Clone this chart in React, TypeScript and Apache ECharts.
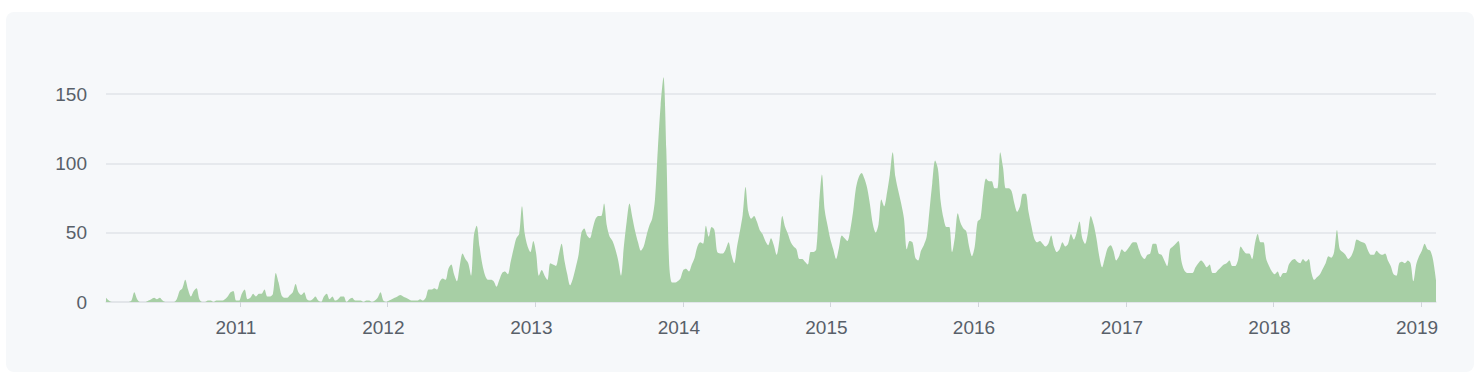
import React, { useEffect, useRef } from "react";
import * as echarts from "echarts";

// Weekly commit counts, first week starting 2010-02-04
const firstWeek = "2010-02-04";

const values2010 = [3,1,0,0,0,0,0,0,0,1, 7,2,0,0,0,1,2,3,2,3, 1,0,0,0,0,2,8,10,16,9, 4,8,10,2,0,0,1,1,0,1, 1,1,2,4,7,8,1];
const values2011 = [1,6,9,2,3,6,4,6,6,9, 4,4,6,21,14,5,3,3,5,7, 13,7,5,7,2,1,2,4,1,0, 4,6,2,4,1,2,4,4,0,2, 3,1,1,1,0,1,1,0,1,3, 7,1];
const values2012 = [0,1,2,3,4,5,4,3,2,1, 1,1,2,1,3,9,9,10,9,15, 17,16,24,27,20,15,26,35,31,28, 19,48,55,40,27,19,16,16,15,11, 16,21,22,20,29,38,46,49,69,49, 40,36,44];
const values2013 = [35,19,23,19,16,28,27,26,34,42, 30,20,12,17,25,34,50,53,48,46, 53,60,62,62,71,55,47,44,38,30, 19,40,58,71,61,51,43,37,40,48, 55,60,74,110,142,162,110,28,14,14, 15,17];
const values2014 = [23,24,22,27,32,40,43,42,55,47, 54,52,36,35,35,38,43,34,28,40, 51,63,83,65,60,62,58,52,49,44, 41,46,41,34,45,62,54,49,43,40, 38,31,31,29,27,36,36,38,70,92, 66,55];
const values2015 = [45,38,31,39,48,46,44,52,65,82, 90,93,89,82,70,56,50,56,74,69, 79,92,108,90,80,71,60,38,44,43, 32,30,37,41,47,66,86,102,96,72, 60,54,54,36,47,64,57,53,51,40, 33,40];
const values2016 = [58,60,78,89,87,87,82,82,108,97, 82,82,80,71,65,69,78,78,65,55, 46,43,44,42,40,42,48,40,36,38, 43,40,42,49,45,50,58,46,42,50, 62,56,46,33,25,32,39,41,37,30, 33,38];
const values2017 = [36,38,41,43,43,38,33,31,34,35, 42,42,35,34,30,26,38,40,42,44, 30,23,21,21,21,25,28,30,28,25, 27,21,21,23,25,27,28,30,26,26, 30,40,37,35,35,31,42,49,43,43, 31,26];
const values2018 = [22,20,22,18,21,21,27,30,31,29, 28,31,29,31,21,16,18,20,24,28, 33,32,36,52,38,36,34,31,33,38, 45,44,43,42,37,34,34,37,35,34, 35,30,26,20,19,28,29,28,30,28, 15,27];
const values2019 = [33,37,42,38,37,30,16];

const yearLabels = ["2011", "2012", "2013", "2014", "2015", "2016", "2017", "2018", "2019"];
const yMin = 0;
const yMax = 150;
const yStep = 50;

const FONT = "'Liberation Sans', Arial, Helvetica, sans-serif";

export default function App() {
  const ref = useRef<HTMLDivElement>(null);

  useEffect(() => {
    if (!ref.current) return;
    const chart = echarts.init(ref.current, null, { renderer: "svg" });
    const values = [
      ...values2010, ...values2011, ...values2012, ...values2013, ...values2014,
      ...values2015, ...values2016, ...values2017, ...values2018, ...values2019,
    ];
    const start = Date.parse(firstWeek + "T00:00:00Z");
    const WEEK = 7 * 86400000;
    const data = values.map((v, i) => [start + i * WEEK, v]);
    const yearValues = yearLabels.map((y) => Date.UTC(Number(y), 0, 1));

    chart.setOption({
      animation: false,
      textStyle: { fontFamily: FONT },
      grid: { left: 106, right: 44, top: 94, bottom: 84 },
      xAxis: {
        type: "value",
        min: data[0][0],
        max: data[data.length - 1][0],
        axisLine: { show: true, lineStyle: { color: "#e1e4e8", width: 1.5 } },
        axisTick: {
          show: true,
          customValues: yearValues,
          length: 5,
          lineStyle: { color: "#d1d5da", width: 1 },
        },
        axisLabel: {
          customValues: yearValues,
          formatter: (v: number) => String(new Date(v).getUTCFullYear()),
          color: "#586069",
          fontSize: 19,
          fontFamily: FONT,
          margin: 16,
          padding: [0, 8, 0, 0],
        },
        splitLine: { show: false },
      },
      yAxis: {
        type: "value",
        min: yMin,
        max: yMax,
        interval: yStep,
        axisLine: { show: false },
        axisTick: { show: false },
        axisLabel: { color: "#586069", fontSize: 19, fontFamily: FONT, margin: 19 },
        splitLine: { lineStyle: { color: "#e1e4e8", width: 1.5 } },
      },
      series: [
        {
          type: "line",
          data,
          smooth: 0.3,
          symbol: "none",
          clip: false,
          lineStyle: { width: 0 },
          areaStyle: { color: "#a7cfa5", opacity: 1 },
          z: 3,
        },
      ],
    });
    return () => chart.dispose();
  }, []);

  return (
    <div style={{ position: "fixed", left: 0, top: 0, width: 1480, height: 386, background: "#ffffff" }}>
      <div
        style={{
          position: "absolute",
          left: 6,
          top: 12,
          width: 1468,
          height: 360,
          borderRadius: 8,
          background: "#f6f8fa",
        }}
      />
      <div ref={ref} style={{ position: "absolute", left: 0, top: 0, width: 1480, height: 386 }} />
    </div>
  );
}
